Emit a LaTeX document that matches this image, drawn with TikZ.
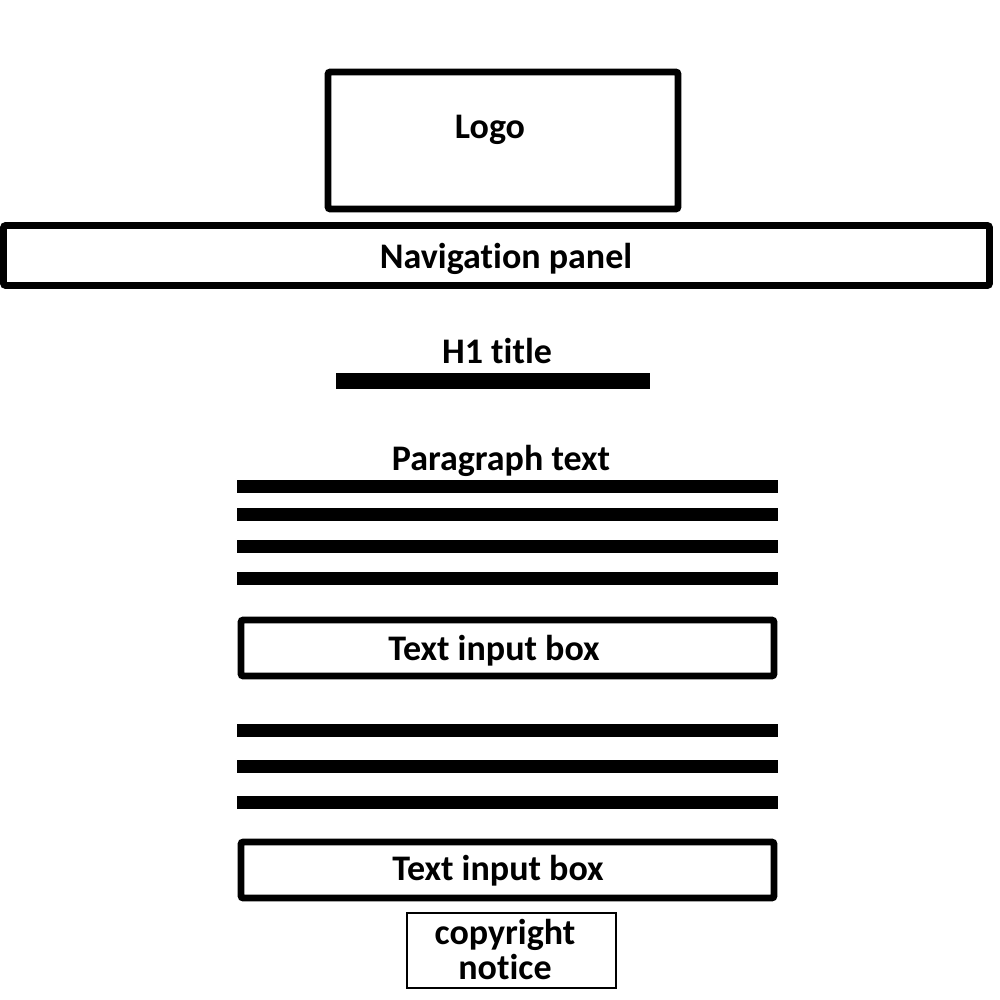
\documentclass[tikz,border=0pt]{standalone}
\usepackage{fontspec}
\setmainfont{Carlito}[Ligatures=NoCommon]
\begin{document}
\begin{tikzpicture}[x=0.5pt,y=-0.5pt,
  lbl/.style={font=\bfseries\fontsize{18}{20}\selectfont, inner sep=0pt, anchor=center},
  frame/.style={draw=black, line width=3.3pt, rounded corners=1pt, inner sep=0pt},
  thinframe/.style={draw=black, line width=1pt, inner sep=0pt},
  bar/.style={fill=black, inner sep=0pt, minimum height=6.5pt}]
\useasboundingbox (0,0) rectangle (1000,1000);
% Logo
\node[frame, minimum width=175pt, minimum height=68.5pt] (logo) at (503,140.5) {};
\node[lbl] (logot) at (490,130) {Logo};
% Navigation
\node[frame, minimum width=493pt, minimum height=30pt] (nav) at (496.5,255.5) {};
\node[lbl] (navt) at (506,259) {Navigation panel};
% H1
\node[lbl] (h1t) at (497,351) {H1 title};
\node[bar, minimum width=157pt, minimum height=8pt] (h1bar) at (493,381) {};
% Paragraph
\node[lbl] (part) at (501,461) {Paragraph text};
\node[bar, minimum width=270.5pt] (p1) at (507.5,486) {};
\node[bar, minimum width=270.5pt] (p2) at (507.5,514.5) {};
\node[bar, minimum width=270.5pt] (p3) at (507.5,546.5) {};
\node[bar, minimum width=270.5pt] (p4) at (507.5,578.5) {};
% Input box 1
\node[frame, minimum width=266.5pt, minimum height=28pt] (in1) at (507.5,648) {};
\node[lbl] (in1t) at (494,651) {Text input box};
% lines
\node[bar, minimum width=270.5pt] (q1) at (507.5,730.5) {};
\node[bar, minimum width=270.5pt] (q2) at (507.5,766.5) {};
\node[bar, minimum width=270.5pt] (q3) at (507.5,802.5) {};
% Input box 2
\node[frame, minimum width=266.5pt, minimum height=28pt] (in2) at (507.5,870) {};
\node[lbl] (in2t) at (498,871) {Text input box};
% Copyright
\node[thinframe, minimum width=104.5pt, minimum height=37.5pt] (copy) at (511.5,950.5) {};
\node[lbl] (copyt1) at (505,935) {copyright};
\node[lbl] (copyt2) at (505,967) {notice};
\end{tikzpicture}
\end{document}
